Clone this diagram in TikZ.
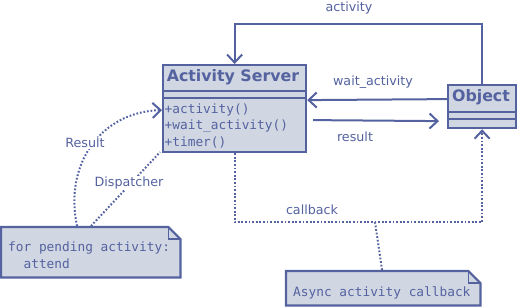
\documentclass[tikz,border=0pt]{standalone}
\usepackage{fontspec}
\setmainfont{DejaVu Sans}
\setmonofont{DejaVu Sans Mono}
\usetikzlibrary{arrows.meta}
\definecolor{umlline}{RGB}{84,98,160}
\definecolor{umlfill}{RGB}{208,214,226}
\tikzset{
  classbox/.style={draw=umlline, fill=umlfill, line width=2.2pt, inner sep=0pt, anchor=north west},
  notebox/.style={inner sep=0pt, anchor=north west},
  noteline/.style={draw=umlline, fill=umlfill, line width=2.2pt, line join=miter},
  titletext/.style={font=\fontsize{15.8}{18}\selectfont\bfseries, text=umlline, inner sep=0pt},
  monotext/.style={font=\fontsize{12.8}{15}\selectfont\ttfamily, text=umlline, inner sep=0pt, anchor=west},
  lbl/.style={font=\fontsize{12.7}{15}\selectfont, text=umlline, inner sep=1pt, fill=white},
  link/.style={draw=umlline, line width=2pt},
  dotlink/.style={draw=umlline, line width=2pt, dash pattern=on 1.7pt off 1.9pt},
  tip/.style={-{Straight Barb[length=8pt, width=15pt, line width=2pt]}},
}
\begin{document}
\begin{tikzpicture}[x=1pt, y=-1pt]
\useasboundingbox (0,0) rectangle (518,306);

% class Activity Server
\node[classbox, minimum width=143, minimum height=87] (srv) at (162,64) {};
\draw[umlline, line width=2.2pt] ([yshift=-27pt]srv.north west) -- ([yshift=-27pt]srv.north east)
      ([yshift=-34pt]srv.north west) -- ([yshift=-34pt]srv.north east);
\node[titletext] (srvname) at (233,77.5) {Activity Server};
\node[monotext] (m1) at (164.5,109.5) {+activity()};
\node[monotext] (m2) at (164.5,126) {+wait\_activity()};
\node[monotext] (m3) at (164.5,142.5) {+timer()};

% class Object
\node[classbox, minimum width=68, minimum height=43] (obj) at (447,84) {};
\draw[umlline, line width=2.2pt] ([yshift=-28pt]obj.north west) -- ([yshift=-28pt]obj.north east)
      ([yshift=-35pt]obj.north west) -- ([yshift=-35pt]obj.north east);
\node[titletext] (objname) at (481,97.5) {Object};

% notes with folded corner
\node[notebox, minimum width=179, minimum height=50] (note1) at (1,227) {};
\draw[noteline] (note1.north west) -- ([xshift=-12pt]note1.north east) -- ([yshift=-12pt]note1.north east)
      -- (note1.south east) -- (note1.south west) -- cycle;
\draw[umlline, line width=1.3pt] ([xshift=-12pt]note1.north east) -- ([xshift=-12pt,yshift=-12pt]note1.north east) -- ([yshift=-12pt]note1.north east);
\node[monotext] (n1a) at (8,248) {for pending activity:};
\node[monotext] (n1b) at (23.4,264) {attend};

\node[notebox, minimum width=194, minimum height=34] (note2) at (286,271) {};
\draw[noteline] (note2.north west) -- ([xshift=-12pt]note2.north east) -- ([yshift=-12pt]note2.north east)
      -- (note2.south east) -- (note2.south west) -- cycle;
\draw[umlline, line width=1.3pt] ([xshift=-12pt]note2.north east) -- ([xshift=-12pt,yshift=-12pt]note2.north east) -- ([yshift=-12pt]note2.north east);
\node[monotext] (n2a) at (293,292.5) {Async activity callback};

% associations
\draw[link, tip] (obj.north) -- ++(0,-60) -| (srv.north);
\node[lbl] (lact) at (349,8) {activity};

\draw[link, tip] ([yshift=7.5pt]obj.west) -- ([yshift=8.5pt]srv.east);
\node[lbl] (lwait) at (373,82) {wait\_activity};

\draw[link, tip] ([shift={(6pt,-11.5pt)}]srv.east) -- ([shift={(-8pt,-14.5pt)}]obj.west);
\node[lbl] (lres) at (355,137) {result};

% callback path
\coordinate (cbturn) at (300,222);
\draw[dotlink, tip] (srv.south) -- (srv.south |- cbturn) -| (obj.south);
\node[lbl] (lcb) at (312,210) {callback};
\coordinate (cbanchor) at (375,222);
\draw[dotlink] (cbanchor) -- ([xshift=-1pt]note2.north);

% note 1 links
\coordinate (r0) at (77,226);
\draw[dotlink, tip] (r0) .. controls (64,165) and (100,112) .. ([yshift=-1.5pt]srv.west);
\coordinate (d0) at (91,226);
\draw[dotlink] (d0) -- ([xshift=-2pt,yshift=1pt]srv.south west);
\node[lbl] (lresult) at (85,143) {Result};
\node[lbl] (ldisp) at (129,183) {Dispatcher};
\end{tikzpicture}
\end{document}
